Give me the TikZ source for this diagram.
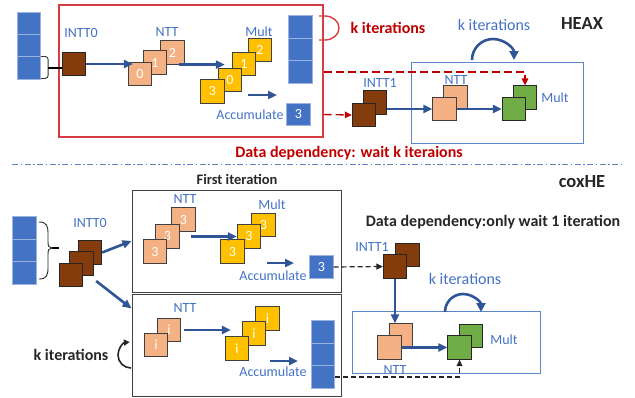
\documentclass[tikz,border=0pt]{standalone}
\usepackage{fontspec}
\setmainfont{Carlito}
\usepackage{xcolor}
\usetikzlibrary{arrows.meta, positioning, calc}

\definecolor{cellblue}{HTML}{4472C4}
\definecolor{cellline}{HTML}{9DB3DE}
\definecolor{inttbrown}{HTML}{843C0C}
\definecolor{nttorange}{HTML}{F4B183}
\definecolor{multyellow}{HTML}{FFC000}
\definecolor{multgreen}{HTML}{70AD47}
\definecolor{textblue}{HTML}{4472C4}
\definecolor{arrowblue}{HTML}{2F5597}
\definecolor{boxblue}{HTML}{5B87C8}
\definecolor{heaxred}{RGB}{214,60,66}
\definecolor{titlered}{HTML}{C00000}
\definecolor{titledark}{HTML}{262626}
\definecolor{boxgray}{HTML}{404040}

\begin{document}
\begin{tikzpicture}[
  x=1pt, y=-1pt,
  sq/.style={rectangle, draw, line width=0.8pt, minimum width=23.5pt,
             minimum height=23.5pt, inner sep=0pt, text=white,
             font=\fontsize{14}{14}\selectfont},
  inttsq/.style={sq, fill=inttbrown, draw=black!85},
  nttsq/.style={sq, fill=nttorange, draw=black!75},
  multsq/.style={sq, fill=multyellow, draw=black!75},
  gsq/.style={sq, fill=multgreen, draw=black!85},
  cell/.style={rectangle, draw=cellline, line width=0.8pt, fill=cellblue,
               minimum width=23.5pt, minimum height=22.3pt, inner sep=0pt,
               text=white, font=\fontsize{14}{14}\selectfont},
  lbl/.style={text=textblue, inner sep=0pt, font=\fontsize{14}{14}\selectfont},
  klbl/.style={lbl, font=\fontsize{16}{16}\selectfont},
  ttl/.style={text=titledark, inner sep=0pt, font=\bfseries\fontsize{16}{16}\selectfont},
  bigttl/.style={ttl, font=\bfseries\fontsize{18.5}{18}\selectfont},
  arr/.style={-{Triangle[length=9pt,width=8pt]}, line width=2.6pt, arrowblue},
  looparr/.style={-{Triangle[length=9pt,width=9pt]}, line width=2.6pt, arrowblue},
  depred/.style={-{Triangle[length=7pt,width=6.5pt]}, line width=1.4pt, titlered,
                 dash pattern=on 8pt off 4pt},
  depblack/.style={-{Triangle[length=6.5pt,width=6pt]}, line width=1.2pt, black!85,
                   dash pattern=on 5pt off 3pt},
  stagebox/.style={rectangle, draw=#1, line width=1pt, inner sep=0pt}
]
\useasboundingbox (0,0) rectangle (635,397);

%% --- HEAX (upper half) ---
\node[stagebox=heaxred, line width=1.3pt, minimum width=264pt, minimum height=132pt] (heaxbox) at (191,71) {};
\foreach \i/\y in {1/24,2/46,3/68}
  \node[cell] (hin\i) at (29,\y) {};
\draw[black!80, line width=0.9pt, rounded corners=3pt]
  (hin3.north east) -- ++(7,0) -- ++(0,22) -- ++(-7,0);
\coordinate (hbrk) at ([xshift=7pt]hin3.east);

\node[lbl] (hintt0) at (81,33) {INTT0};
\node[inttsq] (hintt) at (74,64) {};
\draw[line width=2pt] (hbrk) -- (hbrk -| hintt.west);

\node[lbl] (hnttl) at (167,32) {NTT};
\node[nttsq] (hn2) at (172.5,52.5) {2};
\node[nttsq] (hn1) at (155,62.5) {1};
\node[nttsq] (hn0) at (140,74) {0};
\draw[arr] (hintt.east) -- ([xshift=5pt]hintt.east -| hn0.west);

\node[lbl] (hmultl) at (259,32) {Mult};
\node[multsq] (hm2) at (260,50) {2};
\node[multsq] (hm1) at (244,64) {1};
\node[multsq] (hm0) at (230,80) {0};
\node[multsq] (hm3) at (212.5,91.5) {3};
\draw[arr] ([xshift=-6pt]hn2.south east) -- ([xshift=-7pt]hn2.south east -| hm1.west);

\foreach \i/\y in {1/27,2/49.5,3/72}
  \node[cell] (hout\i) at (300.5,\y) {};
\coordinate (hacca) at (248,95);
\coordinate (haccb) at (277,95);
\draw[arr] (hacca) -- (haccb);
\node[lbl] (hacclbl) at (250,115) {Accumulate};
\node[cell] (hacc) at (298.5,114.5) {3};

% k iterations loop on the red box
\draw[heaxred, line width=1.4pt] (319,16) -- (325,16)
  arc[start angle=270, end angle=450, x radius=14, y radius=12] -- (319,40);
\node[ttl, text=titlered] (hkred) at (388,28) {k iterations};
\node[klbl] (hkblue) at (494,25) {k iterations};
\node[bigttl] (heax) at (582,23) {HEAX};

\node[stagebox=boxblue, minimum width=172pt, minimum height=81pt] (heaxmul) at (497,102.5) {};
\draw[looparr] (472,60) arc[start angle=180, end angle=360, radius=21];

\node[lbl] (hintt1) at (380,83) {INTT1};
\node[inttsq] (hi1b) at (375,102.5) {};
\node[inttsq] (hi1f) at (364,115) {};
\node[lbl] (hnttl2) at (456,80) {NTT};
\node[nttsq] (ht1b) at (455.5,97) {};
\node[nttsq] (ht1f) at (444.5,109) {};
\node[gsq] (hg2) at (525,97.5) {};
\node[gsq] (hg1) at (514,109) {};
\node[lbl] (hmultl2) at (555,98) {Mult};
\draw[arr] (hi1b.east |- ht1f.west) -- (ht1f.west);
\draw[arr] (ht1f.east) -- (hg1.west);

\draw[depred] (hout3.east -| heaxbox.east) -| (hg2.north);
\draw[depred] (hacc.east -| heaxbox.east) -- (hi1f.west);
\node[ttl, text=titlered] (hdep) at (349,153) {Data dependency: wait k iteraions};

%% --- divider ---
\draw[boxblue, line width=0.9pt, dash pattern=on 6pt off 2.5pt on 1.5pt off 2.5pt] (12,164) -- (623,164);

%% --- coxHE (lower half) ---
\node[ttl, font=\bfseries\fontsize{14.5}{14}\selectfont] (cfirst) at (237,179) {First iteration};
\node[stagebox=boxgray, minimum width=209pt, minimum height=102pt] (firstbox) at (236.5,241) {};
\node[stagebox=boxgray, minimum width=209pt, minimum height=102pt] (restbox) at (236.5,345) {};

\foreach \i/\y in {1/228,2/250.5,3/273}
  \node[cell] (cin\i) at (24.5,\y) {};
\draw[black!85, line width=0.9pt]
  (39,222) .. controls (47,222) and (48,226) .. (48,234) -- (48,242)
  .. controls (48,246) and (49,248) .. (52,248)
  .. controls (49,248) and (48,250) .. (48,254) -- (48,268)
  .. controls (48,276) and (46,279) .. (39,279);
\coordinate (cbrk) at (52,248);

\node[lbl] (cintt0) at (90,223) {INTT0};
\node[inttsq] (cib) at (90,252.5) {};
\node[inttsq] (cim) at (81.5,263.5) {};
\node[inttsq] (cif) at (71,275) {};
\draw[line width=2pt] (cbrk) -- (cbrk -| cif.west);
\draw[arr] (cib.east) -- (firstbox.west);
\draw[arr] ([shift={(13,6)}]cif.east) -- ([yshift=-15pt]restbox.north west);

% first iteration
\node[lbl] (cnttl) at (185,199) {NTT};
\node[nttsq] (cn3) at (183.5,219.5) {3};
\node[nttsq] (cn2) at (167.5,236.5) {3};
\node[nttsq] (cn1) at (155,251.5) {3};
\node[lbl] (cmultl) at (272,205) {Mult};
\node[multsq] (cm3) at (263.5,225) {3};
\node[multsq] (cm2) at (249,236.5) {3};
\node[multsq] (cm1) at (232.5,251.5) {3};
\draw[arr] ([xshift=11pt]cn2.east) -- (cm2.west);
\coordinate (cacca) at (267,263);
\coordinate (caccb) at (294,263);
\draw[arr] (cacca) -- (caccb);
\node[lbl] (cacclbl) at (273,276) {Accumulate};
\node[cell] (cacc) at (321.5,267) {3};

% remaining iterations
\node[lbl] (rnttl) at (185,308) {NTT};
\node[nttsq] (ri2) at (169,330) {i};
\node[nttsq] (ri1) at (156,345) {i};
\node[multsq] (rm3) at (267.5,318.5) {i};
\node[multsq] (rm2) at (254,333.5) {i};
\node[multsq] (rm1) at (237,348.5) {i};
\draw[arr] ([xshift=3pt]ri2.east) -- ([xshift=6pt]rm1.west |- ri2.east);
\coordinate (racca) at (270,361);
\coordinate (raccb) at (298,361);
\draw[arr] (racca) -- (raccb);
\node[lbl] (racclbl) at (273,372) {Accumulate};
\foreach \i/\y in {1/332,2/354.5,3/377}
  \node[cell] (rout\i) at (323,\y) {};

\node[ttl] (rkiter) at (71,355) {k iterations};
\draw[-{Triangle[length=6pt,width=6pt]}, line width=1.6pt, black!85]
  (131,368) arc[start angle=90, end angle=265, radius=13];

% second stage
\node[bigttl] (coxhe) at (582,182) {coxHE};
\node[ttl] (cdep) at (493,222) {Data dependency:only wait 1 iteration};
\node[lbl] (cintt1) at (372,247) {INTT1};
\node[inttsq] (ci1b) at (407.5,255) {};
\node[inttsq] (ci1f) at (395,266.5) {};
\node[klbl] (ckblue) at (465,279) {k iterations};
\node[stagebox=boxblue, minimum width=188pt, minimum height=62pt] (coxmul) at (446,342) {};
\draw[looparr] (445,312) arc[start angle=180, end angle=360, radius=18];
\node[nttsq] (ct1b) at (401,335.5) {};
\node[nttsq] (ct1f) at (389.5,347.5) {};
\node[gsq] (cg2) at (471,336) {};
\node[gsq] (cg1) at (459.5,347.5) {};
\node[lbl] (cmultl2) at (504,340) {Mult};
\node[lbl] (cnttl2) at (395,370) {NTT};
\draw[arr] (ci1f.south) -- (ci1f.south |- ct1b.north);
\draw[arr] (ct1f.east) -- (cg1.west);

\draw[depblack] (cacc.east) -- (ci1f.west);
\draw[depblack] (rout3.east) -| (cg1.south);

\end{tikzpicture}
\end{document}
